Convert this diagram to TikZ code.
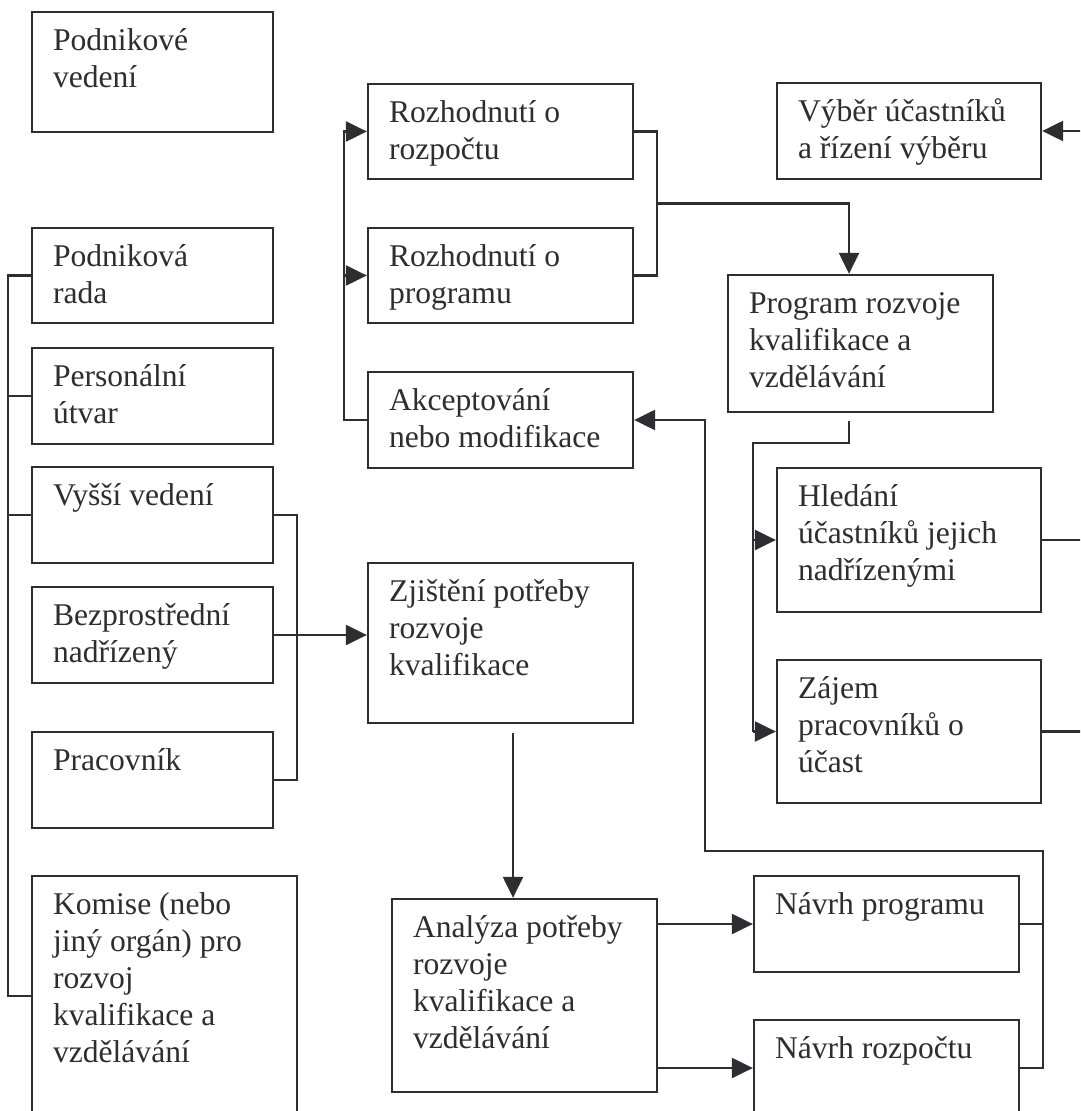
\documentclass[tikz,border=0pt]{standalone}
\usepackage{fontspec}
\setmainfont{Liberation Serif}
\usetikzlibrary{arrows.meta,calc,fit}
\definecolor{ink}{RGB}{45,45,50}
\newcommand{\mytab}[1]{\begin{tabular}[t]{@{}l@{}}#1\end{tabular}}
\newcommand{\bx}[6]{%
  \node[boxst, fit={(#2,#3)(#4,#5)}] (#1) {};
  \node[txt] (#1t) at ($(#1.north west)+(21,39.5)$) {\mytab{#6}};}
\begin{document}
\begin{tikzpicture}[x=0.5pt,y=-0.5pt,
  line width=1.15pt, draw=ink,
  boxst/.style={draw=ink, line width=1.15pt, rectangle, inner sep=0pt},
  txt/.style={anchor=base west, inner sep=0pt, text=ink,
    font=\fontsize{15.8pt}{18.5pt}\selectfont},
  conn/.style={draw=ink, line width=1.15pt},
  arr/.style={conn, -{Triangle[length=10.5pt,width=10pt]}}]
\useasboundingbox (0,0) rectangle (1080,1111);
\clip (0,0) rectangle (1080,1111);
\fill[white] (0,0) rectangle (1080,1111);
% boxes
\bx{pv}{32}{12}{273}{132}{Podnikové\\vedení}
\bx{pr}{32}{228}{273}{323}{Podniková\\rada}
\bx{pu}{32}{348}{273}{444}{Personální\\útvar}
\bx{vv}{32}{467}{273}{563}{Vyšší vedení}
\bx{bn}{32}{587}{273}{683}{Bezprostřední\\nadřízený}
\bx{pc}{32}{732}{273}{828}{Pracovník}
\bx{km}{32}{876}{297}{1116}{Komise (nebo\\jiný orgán) pro\\rozvoj\\kvalifikace a\\vzdělávání}
\bx{rr}{368}{84}{633}{179}{Rozhodnutí o\\rozpočtu}
\bx{rp}{368}{228}{633}{323}{Rozhodnutí o\\programu}
\bx{ak}{368}{372}{633}{468}{Akceptování\\nebo modifikace}
\bx{zj}{368}{563}{633}{723}{Zjištění potřeby\\rozvoje\\kvalifikace}
\bx{an}{392}{899}{657}{1092}{Analýza potřeby\\rozvoje\\kvalifikace a\\vzdělávání}
\bx{vb}{777}{83}{1041}{179}{Výběr účastníků\\a řízení výběru}
\bx{pg}{728}{275}{993}{412}{Program rozvoje\\kvalifikace a\\vzdělávání}
\bx{hl}{777}{468}{1041}{612}{Hledání\\účastníků jejich\\nadřízenými}
\bx{zu}{777}{660}{1041}{803}{Zájem\\pracovníků o\\účast}
\bx{np}{754}{876}{1019}{972}{Návrh programu}
\bx{nr}{754}{1020}{1019}{1116}{Návrh rozpočtu}
% helper coordinates
\coordinate (bx) at (8,0);
\coordinate (rbx) at (297,0);
\coordinate (lx) at (344,0);
\coordinate (rx) at (657,0);
\coordinate (pgx) at (849,0);
\coordinate (hx) at (753,0);
\coordinate (re) at (1095,0);
\coordinate (nx) at (1043,0);
\coordinate (ax) at (705,0);
\coordinate (ty) at (0,851);
\coordinate (pgb) at (849,443);
% left bus
\draw[conn] (pr.west) -- (pr.west -| bx) |- (km.west);
\draw[conn] (pu.west) -- (pu.west -| bx);
\draw[conn] (vv.west) -- (vv.west -| bx);
% right bracket of leaders
\draw[conn] (vv.east) -- (vv.east -| rbx) -- (pc.east -| rbx) -- (pc.east);
\draw[arr] (bn.east) -- (bn.east -| zj.west);
% Zjisteni -> Analyza
\coordinate (zjo) at ($(zj.south)+(12.5,9)$);
\draw[arr] (zjo) -- (zjo |- an.north);
% loop to decisions
\draw[arr] (ak.west) -- (ak.west -| lx) |- (rr.west);
\draw[arr] (rp.west -| lx) -- (rp.west);
% decisions -> program
\draw[conn] (rr.east) -- (rr.east -| rx) -- (rp.east -| rx) -- (rp.east);
\coordinate (rm) at ($(rr.east -| rx)!0.5!(rp.east -| rx)$);
\draw[arr] (rm) -| (pgx |- pg.north);
% program -> search / interest
\coordinate (pgo) at ($(pg.south -| pgx)+(0,8)$);
\draw[conn] (pgo) -- (pgb) -| (zu.west -| hx);
\draw[arr] (hl.west -| hx) -- (hl.west);
\draw[arr] (zu.west -| hx) -- (zu.west);
% right edge lines
\draw[conn] (hl.east) -- (hl.east -| re);
\draw[conn] (zu.east) -- (zu.east -| re);
\draw[arr] (vb.east -| re) -- (vb.east);
% analysis -> proposals
\draw[arr] (np.west -| an.east) -- (np.west);
\draw[arr] (nr.west -| an.east) -- (nr.west);
% proposals -> acceptance
\draw[conn] (np.east) -- (np.east -| nx) -- (nr.east -| nx) -- (nr.east);
\draw[arr] (np.east -| nx) -- (nx |- ty) -- (ax |- ty) -- (ax |- ak.east) -- (ak.east);
\end{tikzpicture}
\end{document}
